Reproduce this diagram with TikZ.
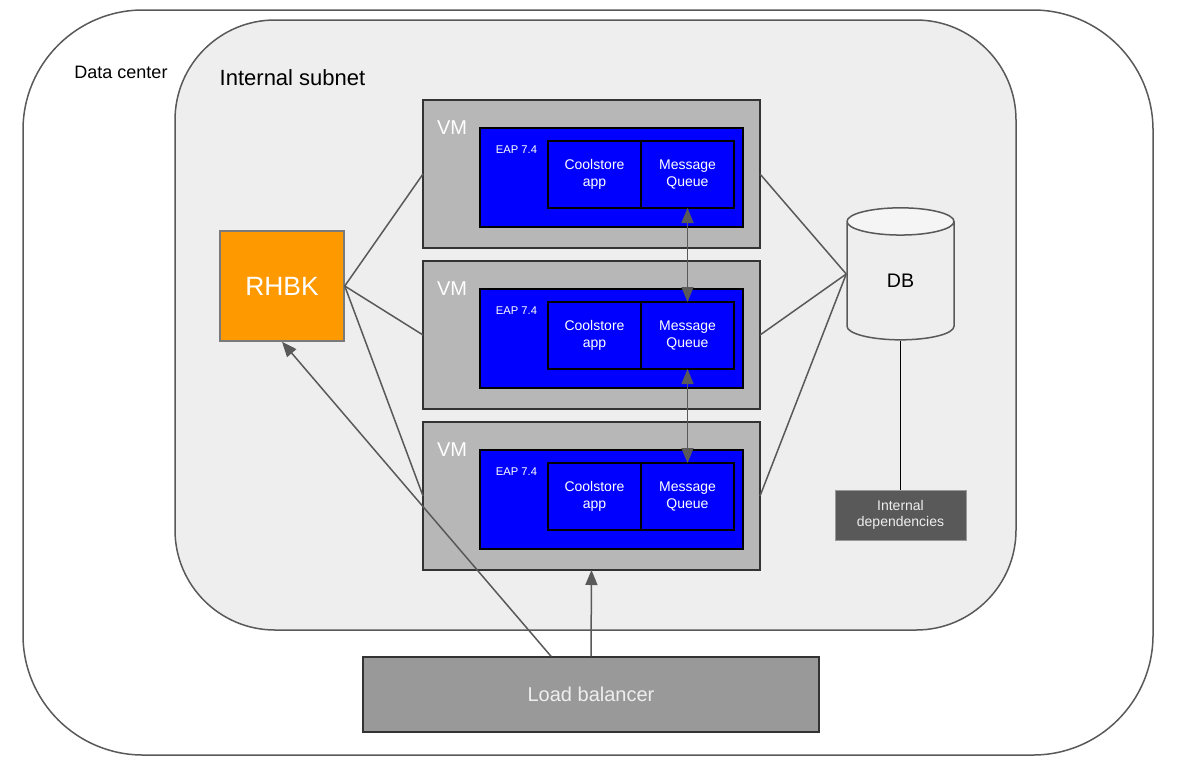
\documentclass[tikz,border=0pt]{standalone}
\usepackage{fontspec}
\setmainfont{Liberation Sans}
\usetikzlibrary{positioning, shapes.geometric, arrows.meta}
\definecolor{linegray}{HTML}{595959}
\definecolor{subnetgray}{HTML}{EEEEEE}
\definecolor{dbtop}{HTML}{F5F5F5}
\definecolor{vmgray}{HTML}{B7B7B7}
\definecolor{vmline}{HTML}{333333}
\definecolor{eapblue}{HTML}{0000FF}
\definecolor{rhbkorange}{HTML}{FF9900}
\definecolor{lbgray}{HTML}{999999}
\definecolor{textlight}{HTML}{EEEEEE}

\begin{document}
\begin{tikzpicture}[
  x=0.5pt, y=-0.5pt,
  vm/.style={rectangle, draw=vmline, fill=vmgray, line width=0.75pt,
    minimum width=168.5pt, minimum height=74pt, inner sep=0pt, outer sep=0pt},
  eap/.style={rectangle, draw=black, fill=eapblue, line width=0.75pt,
    minimum width=131.5pt, minimum height=49.5pt, inner sep=0pt, outer sep=0pt},
  comp/.style={rectangle, draw=black, fill=eapblue, line width=0.75pt,
    minimum width=46.5pt, minimum height=33.5pt, inner sep=0pt, outer sep=0pt,
    align=center, text=white, font=\fontsize{7}{8.5}\selectfont},
  vmlabel/.style={text=white, inner sep=0pt, font=\fontsize{10}{11}\selectfont},
  eaplabel/.style={text=white, inner sep=0pt, font=\fontsize{5.6}{6.5}\selectfont},
  conn/.style={draw=linegray, line width=0.75pt},
  arr/.style={conn, -{Triangle[width=6pt,length=7.5pt]}},
  biarr/.style={conn, {Triangle[width=6pt,length=7.5pt]}-{Triangle[width=6pt,length=7.5pt]}},
]
  \useasboundingbox (0,0) rectangle (1187,772);

  \node[
  rectangle,
  draw=linegray,
  fill=white,
  line width=0.75pt,
  rounded corners=60pt,
  minimum width=565pt,
  minimum height=372.5pt,
  ] (dc) at (588,382.5) {};

  \node[font=\fontsize{9}{10}\selectfont, inner sep=0pt] (dclabel) at (121,72) {Data center};

  \node[
  rectangle,
  draw=linegray,
  fill=subnetgray,
  line width=0.75pt,
  rounded corners=50pt,
  minimum width=420.5pt,
  minimum height=305pt,
  ] (subnet) at (595.5,325) {};

  \node[font=\fontsize{11}{12}\selectfont, inner sep=0pt] (subnetlabel) at (292.5,78) {Internal subnet};

  \node[vm] (vm1) at (591.5,174) {};
  \node[vm, below=6.5pt of vm1] (vm2) {};
  \node[vm, below=6.5pt of vm2] (vm3) {};

  \node[vmlabel] (vmlabel1) at ([shift={(29,27.5)}]vm1.north west) {VM};
  \node[vmlabel] (vmlabel2) at ([shift={(29,27.5)}]vm2.north west) {VM};
  \node[vmlabel] (vmlabel3) at ([shift={(29,27.5)}]vm3.north west) {VM};

  \node[eap] (eap1) at ([shift={(20,3.5)}]vm1.center) {};
  \node[eap] (eap2) at ([shift={(20,3.5)}]vm2.center) {};
  \node[eap] (eap3) at ([shift={(20,3.5)}]vm3.center) {};

  \node[eaplabel] (eaplabel1) at ([shift={(36.5,22)}]eap1.north west) {EAP 7.4};
  \node[eaplabel] (eaplabel2) at ([shift={(36.5,22)}]eap2.north west) {EAP 7.4};
  \node[eaplabel] (eaplabel3) at ([shift={(36.5,22)}]eap3.north west) {EAP 7.4};

  \node[comp] (cool1) at ([shift={(3,0.5)}]vm1.center) {Coolstore\\app};
  \node[comp, right=0pt of cool1] (mq1) {Message\\Queue};
  \node[comp] (cool2) at ([shift={(3,0.5)}]vm2.center) {Coolstore\\app};
  \node[comp, right=0pt of cool2] (mq2) {Message\\Queue};
  \node[comp] (cool3) at ([shift={(3,0.5)}]vm3.center) {Coolstore\\app};
  \node[comp, right=0pt of cool3] (mq3) {Message\\Queue};

  \node[
  rectangle,
  draw=linegray!80,
  fill=rhbkorange,
  line width=0.75pt,
  minimum width=62pt,
  minimum height=55pt,
  text=white,
  font=\fontsize{13.2}{15}\selectfont,
  ] (rhbk) at (282,286) {RHBK};

  \node[
  cylinder,
  shape border rotate=90,
  aspect=1,
  draw=linegray,
  line width=0.75pt,
  cylinder uses custom fill,
  cylinder body fill=subnetgray,
  cylinder end fill=dbtop,
  minimum width=53.5pt,
  minimum height=66pt,
  inner sep=0pt,
  font=\fontsize{9.8}{11}\selectfont,
  ] (db) at (900.5,281) {DB};

  \node[
  rectangle,
  draw=lbgray,
  fill=linegray,
  line width=0.5pt,
  minimum width=65.5pt,
  minimum height=25pt,
  align=center,
  text=textlight,
  font=\fontsize{7}{8.3}\selectfont,
  ] (deps) at (900.5,515) {Internal\\dependencies};

  \node[
  rectangle,
  draw=vmline,
  fill=lbgray,
  line width=0.75pt,
  minimum width=228pt,
  minimum height=37.5pt,
  text=textlight,
  font=\fontsize{10}{12}\selectfont,
  ] (lb) at (591,694.5) {Load balancer};

  \draw[conn] (rhbk.east) -- (vm1.west);
  \draw[conn] (rhbk.east) -- (vm2.west);
  \draw[conn] (rhbk.east) -- (vm3.west);
  \draw[conn] (vm1.east) -- ([yshift=3.5pt]db.west);
  \draw[conn] (vm2.east) -- ([yshift=3.5pt]db.west);
  \draw[conn] (vm3.east) -- ([yshift=3.5pt]db.west);
  \draw[biarr] (mq1.south) -- (mq2.north);
  \draw[biarr] (mq2.south) -- (mq3.north);
  \draw[arr] ([xshift=-20pt]lb.north) -- (rhbk.south);
  \draw[arr] (lb.north) -- (vm3.south);
  \draw[line width=0.75pt] (db.south) -- (deps.north);
\end{tikzpicture}
\end{document}
